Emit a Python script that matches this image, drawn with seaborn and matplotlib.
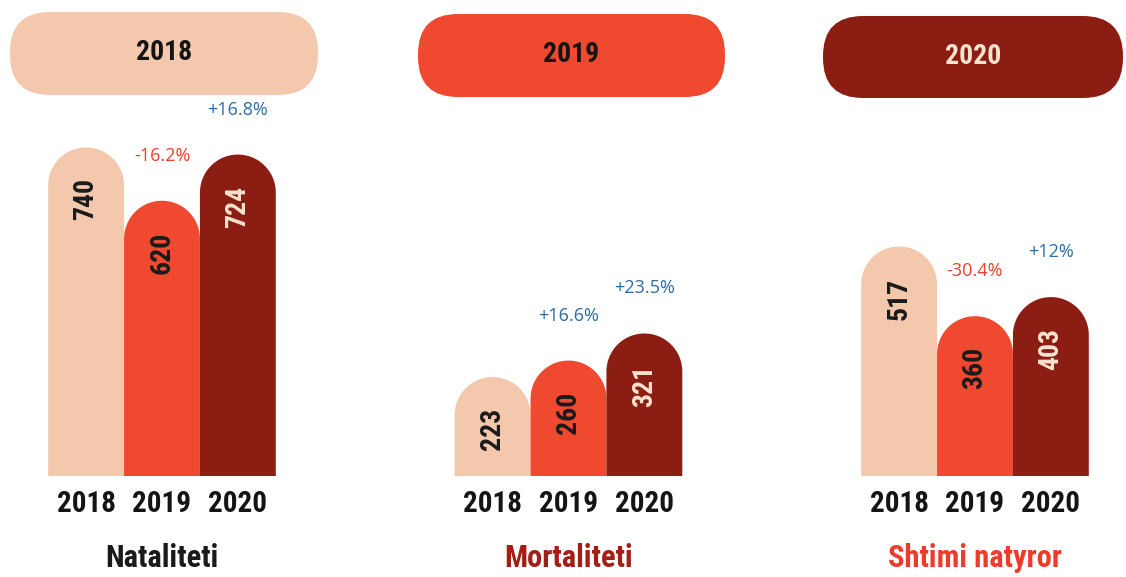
import numpy as np
import pandas as pd
import matplotlib
matplotlib.use("Agg")
import matplotlib.pyplot as plt
from matplotlib import font_manager
import seaborn as sns
from matplotlib.path import Path
from matplotlib.patches import PathPatch, FancyBboxPatch

# ---------------- data ----------------
groups = ["Nataliteti", "Mortaliteti", "Shtimi natyror"]
years = ["2018", "2019", "2020"]
natality = [740, 620, 724]
mortality = [223, 260, 321]
natural_increase = [517, 360, 403]
natality_change = ["", "-16.2%", "+16.8%"]
mortality_change = ["", "+16.6%", "+23.5%"]
natural_increase_change = ["", "-30.4%", "+12%"]

values_by_group = [natality, mortality, natural_increase]
changes_by_group = [natality_change, mortality_change, natural_increase_change]

rows = []
for g, vals in zip(groups, values_by_group):
    for y, v in zip(years, vals):
        rows.append({"group": g, "year": y, "value": v})
df = pd.DataFrame(rows)

# ---------------- style ----------------
year_colors = {"2018": "#F4C8AD", "2019": "#EF4A30", "2020": "#8C1D13"}
value_text_colors = {"2018": "#1a1a1a", "2019": "#1a1a1a", "2020": "#F6E3CF"}
group_colors = ["#1a1a1a", "#A11F15", "#EE3B2A"]

available = {f.name for f in font_manager.fontManager.ttflist}
condensed_candidates = ["Roboto Condensed", "Liberation Sans Narrow",
                        "DejaVu Sans Condensed", "Open Sans Condensed",
                        "Noto Sans Condensed", "Noto Sans Display Condensed"]
cond_name = next((c for c in condensed_candidates if c in available), None)
narrow_ok = cond_name is not None
cond = [cond_name, "DejaVu Sans"] if narrow_ok else ["Roboto", "DejaVu Sans"]
regular = ["Open Sans", "DejaVu Sans"]

sns.set_theme(style="white")
plt.rcParams["font.family"] = cond

k = 1.0 if narrow_ok else 0.82  # shrink if no narrow face

fig = plt.figure(figsize=(11.26, 5.77), dpi=100)
fig.patch.set_facecolor("white")
ax = fig.add_axes([0, 0, 1, 1])
bar_width = 0.56
sns.barplot(data=df, x="group", y="value", hue="year", order=groups,
            hue_order=years, palette=year_colors, width=bar_width, gap=0,
            saturation=1, errorbar=None, legend=False, ax=ax)

ax.set_xlim(-0.3985, 2.3715)
ax.set_ylim(-227.5, 1072.1)
ax.set_axis_off()

# ---------------- rounded-top bars ----------------
fig.canvas.draw()
px_per_y = ax.transData.transform((0, 1))[1] - ax.transData.transform((0, 0))[1]
bars = [p for p in ax.patches]
sub_w = bar_width / 3
for p in bars:
    x0, w, h = p.get_x(), p.get_width(), p.get_height()
    if h <= 0:
        continue
    cx = x0 + w / 2
    gi = int(round(cx))
    yi = int(round((cx - gi) / sub_w)) + 1
    year = years[yi]
    wpx = ax.transData.transform((x0 + w, 0))[0] - ax.transData.transform((x0, 0))[0]
    ry = (wpx / 2) / px_per_y
    t = np.linspace(np.pi, 0, 40)
    arc = np.column_stack([cx + (w / 2) * np.cos(t), (h - ry) + ry * np.sin(t)])
    verts = np.vstack([[x0, 0], [x0, h - ry], arc, [x0 + w, 0], [x0, 0]])
    codes = [Path.MOVETO] + [Path.LINETO] * (len(verts) - 2) + [Path.CLOSEPOLY]
    ax.add_patch(PathPatch(Path(verts, codes), facecolor=p.get_facecolor(),
                           edgecolor="none", zorder=2))
    p.set_visible(False)

    v = values_by_group[gi][yi]
    ax.annotate(str(v), xy=(cx, h), xytext=(0, -52), textcoords="offset pixels",
                rotation=90, ha="center", va="center", fontsize=20 * k,
                fontweight="bold", color=value_text_colors[year],
                family=cond, zorder=3)
    ch = changes_by_group[gi][yi]
    if ch:
        ax.annotate(ch, xy=(cx, h), xytext=(0, 45), textcoords="offset pixels",
                    ha="center", va="center", fontsize=13,
                    color="#E8412C" if ch.startswith("-") else "#2C6CA3",
                    family=regular, zorder=3)
    ax.annotate(year, xy=(cx, 0), xytext=(0, -28), textcoords="offset pixels",
                ha="center", va="center", fontsize=21 * k, fontweight="bold",
                color="#141414", family=cond)

for gi, g in enumerate(groups):
    ax.annotate(g, xy=(gi, 0), xytext=(0, -82), textcoords="offset pixels",
                ha="center", va="center", fontsize=22 * k, fontweight="bold",
                color=group_colors[gi], family=cond)

# ---------------- year pills (legend) ----------------
ax2 = fig.add_axes([0, 0, 1, 1], facecolor="none")
ax2.set_xlim(0, 1126)
ax2.set_ylim(577, 0)
ax2.set_axis_off()
pill_boxes = [(10, 12, 308, 83), (418, 14, 307, 83), (823, 16, 300, 82)]
pill_text_colors = ["#141414", "#141414", "#F6E3CF"]
for (x, y, w, h), yr, tc in zip(pill_boxes, years, pill_text_colors):
    ax2.add_patch(FancyBboxPatch((x, y), w, h,
                                 boxstyle="round,pad=0,rounding_size=40",
                                 facecolor=year_colors[yr], edgecolor="none"))
    ax2.text(x + w / 2, y + h / 2 - 1, yr, ha="center", va="center",
             fontsize=20 * k, fontweight="bold", color=tc, family=cond)

fig.savefig("out.png", dpi=100, facecolor="white")
